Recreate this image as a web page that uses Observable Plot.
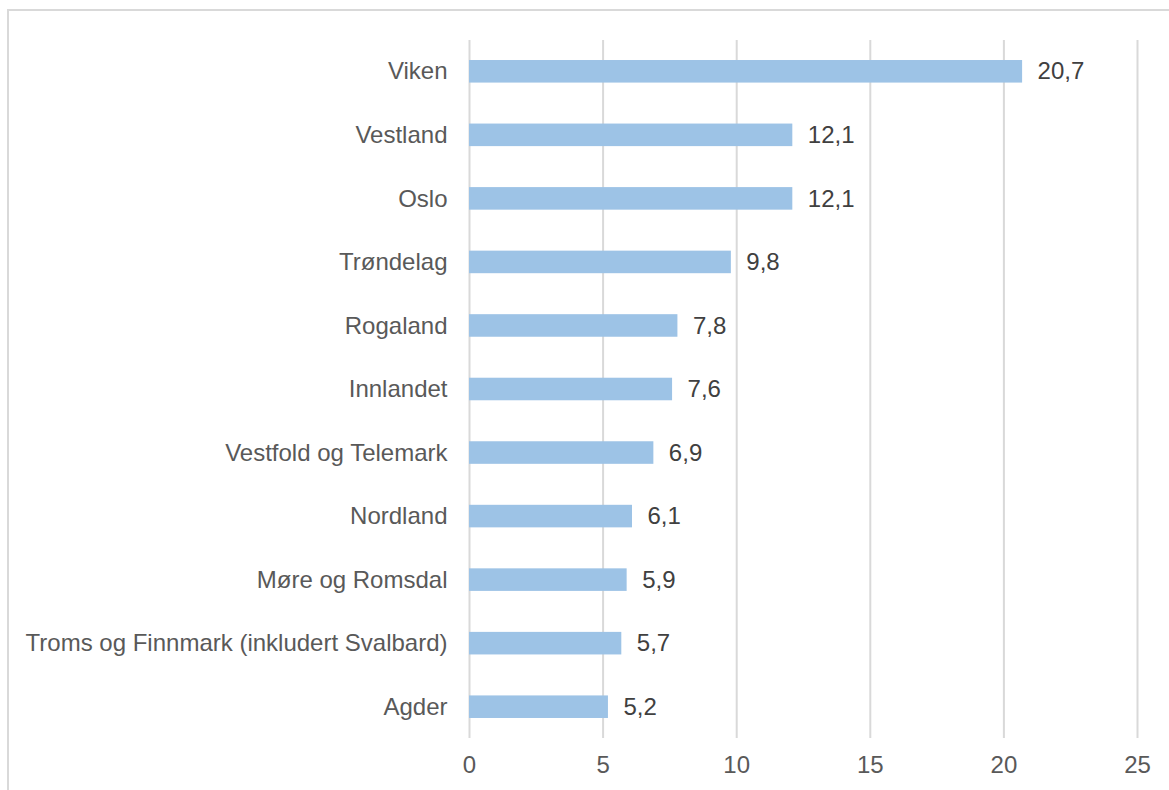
<!DOCTYPE html>
<html>
<head>
<meta charset="utf-8">
<script src="https://cdn.jsdelivr.net/npm/d3@7"></script>
<script src="https://cdn.jsdelivr.net/npm/@observablehq/plot@0.6"></script>
<style>
  html, body { margin: 0; padding: 0; background: #fff; }
  #wrap { position: relative; width: 1169px; height: 790px; overflow: hidden; }
  #frame { position: absolute; left: 7px; top: 9px; width: 1200px; height: 900px;
           border-left: 2px solid #d9d9d9; border-top: 2px solid #d9d9d9; }
  #chart { position: absolute; left: 0; top: 0; }
</style>
</head>
<body>
<div id="wrap"><div id="frame"></div><div id="chart"></div></div>
<script>
const regions = ["Viken", "Vestland", "Oslo", "Trøndelag", "Rogaland", "Innlandet",
  "Vestfold og Telemark", "Nordland", "Møre og Romsdal",
  "Troms og Finnmark (inkludert Svalbard)", "Agder"];
const values = [20.7, 12.1, 12.1, 9.8, 7.8, 7.6, 6.9, 6.1, 5.9, 5.7, 5.2];
const xTicks = [0, 5, 10, 15, 20, 25];

const data = regions.map((r, i) => ({region: r, value: values[i]}));
const fmt = v => v.toFixed(1).replace(".", ",");

const chart = Plot.plot({
  width: 1169,
  height: 790,
  marginLeft: 469,
  marginRight: 32,
  marginTop: 40,
  marginBottom: 52,
  style: {fontFamily: "Liberation Sans, Arial, sans-serif", fontSize: "24px", background: "transparent"},
  x: {domain: [0, 25], ticks: xTicks, label: null},
  y: {domain: regions, paddingInner: 0.645, paddingOuter: 0.315, round: false, label: null},
  marks: [
    Plot.gridX(xTicks, {stroke: "#d9d9d9", strokeOpacity: 1, strokeWidth: 2}),
    Plot.barX(data, {x: "value", y: "region", fill: "#9dc3e6"}),
    Plot.text(data, {x: "value", y: "region", text: d => fmt(d.value), textAnchor: "start", dx: 15, fill: "#404040", fontSize: 24}),
    Plot.axisY({tickSize: 0, tickPadding: 22, fill: "#595959", fontSize: 24, label: null}),
    Plot.axisX(xTicks, {tickSize: 0, tickPadding: 17, fill: "#595959", fontSize: 24, label: null, tickFormat: d => String(d)})
  ]
});
document.getElementById("chart").appendChild(chart);
</script>
</body>
</html>
